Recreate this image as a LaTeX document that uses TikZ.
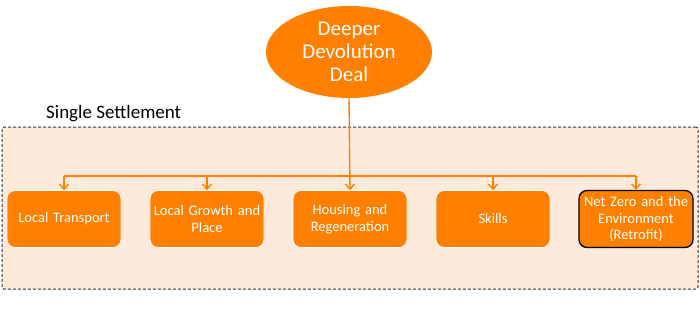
\documentclass[tikz,border=0pt]{standalone}
\usepackage{fontspec}
\setmainfont{Carlito}
\usetikzlibrary{shapes.geometric,arrows.meta}
\definecolor{orng}{RGB}{255,128,0}
\definecolor{peach}{RGB}{253,234,218}
\definecolor{dgray}{RGB}{50,50,50}
\tikzset{
  topic/.style={rectangle, rounded corners=8pt, fill=orng, draw=white, line width=0.8pt,
    minimum width=114pt, minimum height=57pt, text width=112pt, align=center,
    text=white, font=\fontsize{14.5}{16.5}\selectfont, inner sep=0pt},
  link/.style={draw=orng, line width=1.4pt},
  arr/.style={link, -{Straight Barb[length=5pt,width=9pt]}}
}
\begin{document}
\begin{tikzpicture}[x=1pt,y=-1pt]
\useasboundingbox (0,0) rectangle (700,309);
\node[draw=dgray, dash pattern=on 3pt off 2pt, fill=peach, line width=1pt, rounded corners=2pt, minimum width=696pt, minimum height=162pt, inner sep=0pt] (frame) at (350,208) {};
\node[anchor=base west, font=\fontsize{19}{22}\selectfont, inner sep=0pt] (title) at (46,118) {Single Settlement};
\node[ellipse, fill=orng, minimum width=166pt, minimum height=92pt, inner sep=0pt, text=white, align=center, font=\fontsize{21}{23}\selectfont] (deal) at (349,52) {Deeper\\Devolution\\Deal};
\node[topic] (b1) at (64,219) {Local Transport};
\node[topic] (b2) at (207,219) {Local Growth and\\Place};
\node[topic] (b3) at (350,219) {Housing and\\Regeneration};
\node[topic] (b4) at (493,219) {Skills};
\node[topic, draw=black, line width=1.3pt] (b5) at (636,219) {Net Zero and the\\Environment\\(Retrofit)};
\coordinate (hub) at (349,176);
\draw[link] (b1.north |- hub) -- (b5.north |- hub);
\draw[arr] (deal.south) -- (b3.north);
\foreach \b in {b1,b2,b4,b5} \draw[arr] (\b.north |- hub) -- (\b.north);
\end{tikzpicture}
\end{document}
